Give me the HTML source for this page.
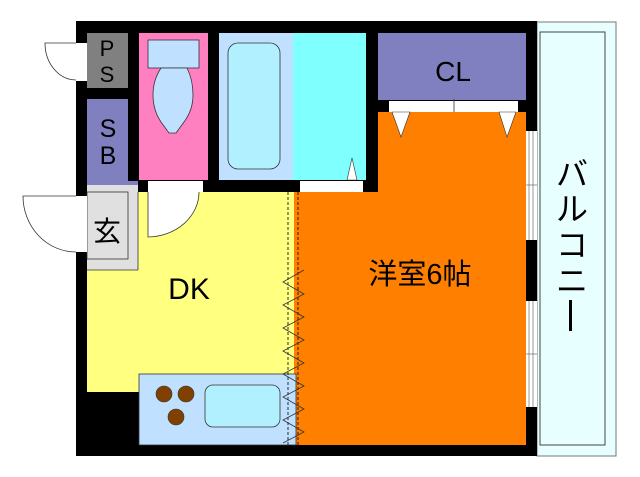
<!DOCTYPE html>
<html><head><meta charset="utf-8"><style>body{margin:0;background:#fff}svg{display:block}</style></head><body>
<svg width="640" height="477" viewBox="0 0 640 477" xmlns="http://www.w3.org/2000/svg" font-family="Liberation Sans, Noto Sans CJK JP, sans-serif">
<rect x="537" y="22" width="79" height="434" fill="#e8ffff" stroke="#777" stroke-width="1"/>
<rect x="540" y="32" width="65" height="413" fill="none" stroke="#444" stroke-width="1"/>
<rect x="76" y="21" width="461" height="435" fill="#000"/>
<rect x="87" y="33" width="41" height="55" fill="#808080"/>
<rect x="87" y="99" width="41" height="82" fill="#8080c0"/>
<rect x="139" y="33" width="69" height="147" fill="#ff80c0"/>
<rect x="148" y="40" width="51" height="28" fill="#c0e0ff" stroke="#333" stroke-width="0.8"/>
<path d="M161 68 L187 68 Q193 80 193 95 Q193 110 184 122 L176 133 L169 133 L161 122 Q153 110 153 95 Q153 80 161 68 Z" fill="#c0e0ff" stroke="#333" stroke-width="0.8"/>
<rect x="219" y="33" width="74" height="147" fill="#c0e0ff"/>
<rect x="228" y="43" width="52" height="126" rx="10" fill="#b0f0ff" stroke="#333" stroke-width="0.8"/>
<rect x="293" y="33" width="73" height="147" fill="#80ffff"/>
<rect x="378" y="33" width="148" height="67" fill="#8080c0"/>
<path d="M378 112 H526 V445 H294 V192 H378 Z" fill="#ff8000"/>
<rect x="87" y="192" width="207" height="200" fill="#ffff80"/>
<rect x="87" y="181" width="51" height="4" fill="#8080c0"/>
<rect x="87" y="185" width="51" height="85" fill="#e0e0e0"/>
<rect x="87" y="192" width="41" height="67" fill="#e0e0e0" stroke="#333" stroke-width="0.8"/>
<line x1="138" y1="192" x2="138" y2="270" stroke="#333" stroke-width="0.8"/>
<line x1="87" y1="270" x2="138" y2="270" stroke="#333" stroke-width="0.8"/>
<rect x="139" y="374" width="157" height="71" fill="#c0e0ff" stroke="#333" stroke-width="0.8"/>
<circle cx="164" cy="394" r="8" fill="#804000" stroke="#333" stroke-width="0.6"/>
<circle cx="186" cy="394" r="8" fill="#804000" stroke="#333" stroke-width="0.6"/>
<circle cx="176" cy="417" r="8" fill="#804000" stroke="#333" stroke-width="0.6"/>
<rect x="205" y="385" width="75" height="42" rx="8" fill="#b0f0ff" stroke="#333" stroke-width="0.8"/>
<line x1="288" y1="192" x2="288" y2="445" stroke="#000" stroke-width="0.8" stroke-dasharray="3,2"/>
<line x1="298" y1="192" x2="298" y2="445" stroke="#000" stroke-width="0.8" stroke-dasharray="3,2"/>
<polyline points="304,270 283,282 304,294 283,305 304,317 283,328 304,340 283,351 304,363 283,374 304,386 283,397 304,409 283,420 304,432 283,443" fill="none" stroke="#333" stroke-width="0.8"/>
<rect x="76" y="43" width="11" height="38" fill="#fff"/>
<path d="M76 43 H45 A31 37 0 0 0 76 80" fill="none" stroke="#333" stroke-width="0.8"/>
<rect x="76" y="196" width="11" height="56" fill="#fff"/>
<path d="M76 196 H23 A53 56 0 0 0 76 252" fill="none" stroke="#333" stroke-width="0.8"/>
<rect x="148" y="181" width="55" height="11" fill="#fff"/>
<path d="M148 192 V237 A52 45 0 0 0 199 192" fill="#fff" stroke="#333" stroke-width="0.8"/>
<rect x="300" y="181" width="63" height="11" fill="#fff"/>
<path d="M347 180 L352 158 L357 180 Z" fill="#fff" stroke="#333" stroke-width="0.6"/>
<rect x="389" y="101" width="129" height="11" fill="#fff"/>
<line x1="454" y1="99" x2="454" y2="112" stroke="#333" stroke-width="0.8"/>
<path d="M392 112 L401 137 L410 112 Z" fill="#fff" stroke="#333" stroke-width="0.6"/>
<path d="M499 112 L507 137 L516 112 Z" fill="#fff" stroke="#333" stroke-width="0.6"/>
<rect x="526" y="131" width="11" height="109" fill="#fff"/>
<line x1="529" y1="131" x2="529" y2="240" stroke="#555" stroke-width="0.6"/>
<line x1="533" y1="131" x2="533" y2="240" stroke="#555" stroke-width="0.6"/>
<line x1="526" y1="185" x2="537" y2="185" stroke="#555" stroke-width="0.6"/>
<rect x="526" y="301" width="11" height="106" fill="#fff"/>
<line x1="529" y1="301" x2="529" y2="407" stroke="#555" stroke-width="0.6"/>
<line x1="533" y1="301" x2="533" y2="407" stroke="#555" stroke-width="0.6"/>
<line x1="526" y1="354" x2="537" y2="354" stroke="#555" stroke-width="0.6"/>
<text x="107" y="56" font-size="22" text-anchor="middle" fill="#000">P</text>
<text x="107" y="82" font-size="22" text-anchor="middle" fill="#000">S</text>
<text x="108" y="137" font-size="25" text-anchor="middle" fill="#000">S</text>
<text x="108" y="164" font-size="25" text-anchor="middle" fill="#000">B</text>
<text x="107" y="241" font-size="28" text-anchor="middle" fill="#000">玄</text>
<text x="453" y="81" font-size="28" text-anchor="middle" fill="#000">CL</text>
<text x="189" y="299" font-size="30" text-anchor="middle" fill="#000">DK</text>
<text x="420" y="284" font-size="29" text-anchor="middle" fill="#000">洋室6帖</text>
<text x="572" y="185" font-size="32" text-anchor="middle" fill="#000">バ</text>
<text x="572" y="220" font-size="32" text-anchor="middle" fill="#000">ル</text>
<text x="572" y="256" font-size="32" text-anchor="middle" fill="#000">コ</text>
<text x="572" y="292" font-size="32" text-anchor="middle" fill="#000">ニ</text>
<rect x="569" y="300" width="3" height="31" fill="#000"/>
</svg>
</body></html>
